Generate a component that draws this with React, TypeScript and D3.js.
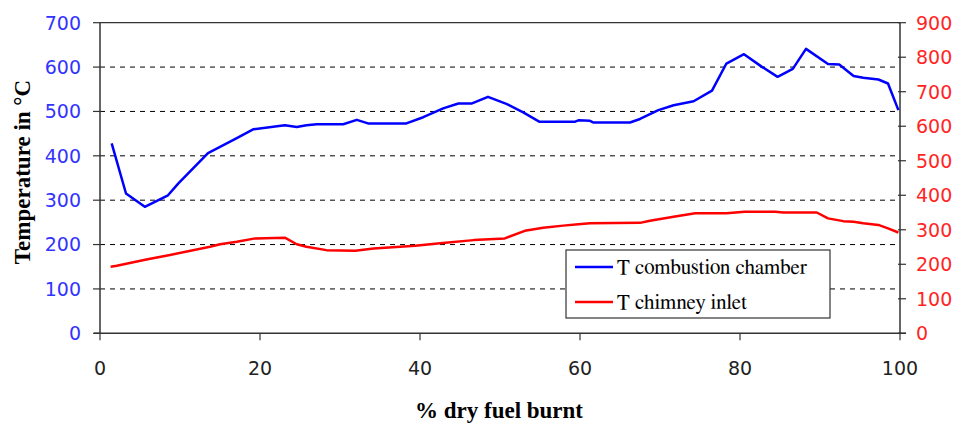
import React from "react";
import * as d3 from "d3";

const combustionX = [1.46, 3.25, 5.6, 8.5, 9.8, 13.5, 17.1, 19.2, 23.1, 24.6, 25.8, 27.1, 30.4, 32.1, 33.5, 38.3, 40.4, 42.9, 44.8, 46.5, 48.5, 50.8, 52.9, 54.9, 59.4, 59.8, 61.25, 61.7, 66.25, 67.5, 69.8, 71.7, 74.2, 76.5, 78.3, 80.5, 82.7, 84.7, 86.6, 88.25, 91, 92.4, 94.2, 95.4, 97.3, 98.5, 99.8];
const combustionT = [428, 315, 285, 311, 338, 406, 440, 460, 469, 465, 469, 471, 471, 481, 473, 473, 487, 507, 518, 518, 533, 517, 498, 477, 477, 480, 479, 475, 475, 483, 503, 514, 523, 547, 608, 629, 601, 578, 596, 641, 607, 606, 580, 576, 572, 563, 503];

const chimneyX = [1.33, 2.1, 5.8, 8.75, 13.75, 15, 17.1, 19.4, 23.1, 24.6, 25.8, 28.3, 31.9, 34.2, 39.4, 42.5, 46.7, 50.6, 53.1, 55.4, 57.9, 59.8, 61.25, 67.5, 68.75, 71.7, 74.4, 78.3, 80.6, 84.4, 85.4, 89.6, 91, 92.9, 94.2, 95.4, 97.3, 98.5, 99.8];
const chimneyT = [193, 196, 214, 227, 251, 258, 265, 275, 277, 258, 251, 241, 239, 246, 254, 261, 270, 275, 297, 306, 312, 316, 319, 320, 326, 338, 348, 348, 352, 352, 350, 350, 333, 325, 323, 319, 314, 304, 292];

const xTicks = [0, 20, 40, 60, 80, 100];
const leftTicks = [0, 100, 200, 300, 400, 500, 600, 700];
const rightTicks = [0, 100, 200, 300, 400, 500, 600, 700, 800, 900];
const gridValues = [100, 200, 300, 400, 500, 600];
const legendLabels = ["T combustion chamber", "T chimney inlet"];

export default function App() {
  const L = 100, R = 900, T = 22.7, B = 333.3;
  const x = d3.scaleLinear().domain([0, 100]).range([L, R]);
  const yL = d3.scaleLinear().domain([0, 700]).range([B, T]);
  const yR = d3.scaleLinear().domain([0, 900]).range([B, T]);
  const lineL = d3.line<number>().x((_, i) => x(combustionX[i])).y((d) => yL(d));
  const lineR = d3.line<number>().x((_, i) => x(chimneyX[i])).y((d) => yR(d));
  const axisColor = "#333";
  const serifBold = (size: number) => ({ fontFamily: "'Liberation Serif'", fontSize: size, fontWeight: 700 });
  const legendFont = (size: number) => ({ fontFamily: "'FreeSerif'", fontSize: size, fontWeight: 400 });
  const sans = (size: number) => ({ fontFamily: "'DejaVu Sans'", fontSize: size });

  return (
    <svg width={956} height={427} style={{ position: "absolute", left: 0, top: 0, background: "#fff" }}>
      {gridValues.map((v) => (
        <line key={"g" + v} x1={L} x2={R} y1={yL(v)} y2={yL(v)} stroke="#000" strokeWidth={1} strokeDasharray="5,5" />
      ))}
      <line x1={L} x2={R} y1={T} y2={T} stroke={axisColor} strokeWidth={1.2} />
      <line x1={L} x2={L} y1={T} y2={B} stroke={axisColor} strokeWidth={1.5} />
      <line x1={R} x2={R} y1={T} y2={B} stroke={axisColor} strokeWidth={1.5} />
      <line x1={L - 6} x2={R + 6} y1={B} y2={B} stroke={axisColor} strokeWidth={1.5} />
      {leftTicks.map((v) => (
        <g key={"l" + v}>
          <line x1={L - 7} x2={L} y1={yL(v)} y2={yL(v)} stroke={axisColor} strokeWidth={1.2} />
          <text x={81} y={yL(v)} dy="0.36em" textAnchor="end" fill="#3333ff" style={sans(19)}>{v}</text>
        </g>
      ))}
      {rightTicks.map((v) => (
        <g key={"r" + v}>
          <line x1={R - 2} x2={R + 6} y1={yR(v)} y2={yR(v)} stroke={axisColor} strokeWidth={1.2} />
          <text x={916} y={yR(v)} dy="0.36em" textAnchor="start" fill="#ff2525" style={sans(19)}>{v}</text>
        </g>
      ))}
      {xTicks.map((v) => (
        <g key={"x" + v}>
          <line x1={x(v)} x2={x(v)} y1={B} y2={B + 7} stroke={axisColor} strokeWidth={1.2} />
          <text x={x(v)} y={375} textAnchor="middle" fill="#222" style={sans(19)}>{v}</text>
        </g>
      ))}
      <path d={lineL(combustionT) || ""} fill="none" stroke="#0000ff" strokeWidth={2.5} strokeLinejoin="round" />
      <path d={lineR(chimneyT) || ""} fill="none" stroke="#ff0000" strokeWidth={2.5} strokeLinejoin="round" />
      <text transform="translate(30,172) rotate(-90)" textAnchor="middle" fill="#000" style={serifBold(23)}>Temperature in °C</text>
      <text x={499} y={418} textAnchor="middle" fill="#000" style={serifBold(23)}>% dry fuel burnt</text>
      <rect x={566} y={250} width={264} height={68} fill="#fff" stroke={axisColor} strokeWidth={1.2} />
      {legendLabels.map((lab, i) => (
        <g key={lab}>
          <line x1={575} x2={613} y1={267 + i * 35} y2={267 + i * 35} stroke={i === 0 ? "#0000ff" : "#ff0000"} strokeWidth={2.5} />
          <text x={617} y={274 + i * 35} fill="#000" style={legendFont(21)}>{lab}</text>
        </g>
      ))}
    </svg>
  );
}
